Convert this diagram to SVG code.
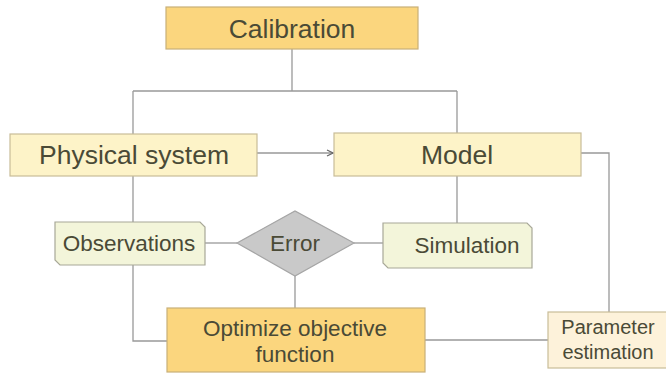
<svg xmlns="http://www.w3.org/2000/svg" width="666" height="374" viewBox="0 0 666 374">
<defs>
<style>
.t{font-family:"Liberation Sans",Arial,sans-serif;fill:#4a4a36;text-anchor:middle}
.gold{fill:#fbd67e;stroke:#c9b078;stroke-width:1.2}
.cream{fill:#fdf3c8;stroke:#c9bd98;stroke-width:1.2}
.note{fill:#f3f5da;stroke:#a8a898;stroke-width:1.2}
.pe{fill:#fdf2da;stroke:#c9bd98;stroke-width:1.2}
.ln{fill:none;stroke:#999;stroke-width:1.3}
</style>
<marker id="ah" viewBox="0 0 8 8" refX="7" refY="4" markerWidth="8" markerHeight="8" markerUnits="userSpaceOnUse" orient="auto">
<path d="M1,1 L7,4 L1,7" fill="none" stroke="#666" stroke-width="1.2"/>
</marker>
</defs>
<rect width="666" height="374" fill="#fff"/>
<g id="connectors">
<path class="ln" d="M292,49 V91"/>
<path class="ln" d="M133,91 H457"/>
<path class="ln" d="M133,91 V134"/>
<path class="ln" d="M457,91 V133"/>
<path class="ln" d="M257,153 H333" marker-end="url(#ah)"/>
<path class="ln" d="M133,176 V222"/>
<path class="ln" d="M457,176 V223"/>
<path class="ln" d="M581,153 H609 V312"/>
<path class="ln" d="M205,243 H237"/>
<path class="ln" d="M354,243 H383"/>
<path class="ln" d="M295,276 V308"/>
<path class="ln" d="M133,265 V341 H167"/>
<path class="ln" d="M425,340 H548"/>
</g>
<g id="calibration">
<rect class="gold" x="166" y="7" width="252" height="42"/>
<text class="t" x="292" y="38" font-size="26.5">Calibration</text>
</g>
<g id="physical-system">
<rect class="cream" x="10" y="134" width="247" height="42"/>
<text class="t" x="134" y="164" font-size="26.5">Physical system</text>
</g>
<g id="model">
<rect class="cream" x="334" y="133" width="247" height="43"/>
<text class="t" x="457" y="164" font-size="26.5">Model</text>
</g>
<g id="observations">
<path class="note" d="M55,222 H200 L205,227 V265 H60 L55,260 Z"/>
<text class="t" x="129" y="251" font-size="22.5">Observations</text>
</g>
<g id="error">
<path d="M237,243 L295,211 L354,243 L295,276 Z" fill="#c9c9c9" stroke="#a5a5a5" stroke-width="1.2"/>
<text class="t" x="295" y="251" font-size="22.5">Error</text>
</g>
<g id="simulation">
<path class="note" d="M383,223 H527 L532,228 V268 H388 L383,263 Z"/>
<text class="t" x="467" y="253" font-size="22.5">Simulation</text>
</g>
<g id="optimize">
<rect class="gold" x="167" y="308" width="258" height="64"/>
<text class="t" x="295" y="336" font-size="22.5">Optimize objective</text>
<text class="t" x="295" y="362" font-size="22.5">function</text>
</g>
<g id="parameter-estimation">
<rect class="pe" x="548" y="312" width="122" height="56"/>
<text class="t" x="608" y="334" font-size="20">Parameter</text>
<text class="t" x="608" y="359" font-size="20">estimation</text>
</g>
</svg>
